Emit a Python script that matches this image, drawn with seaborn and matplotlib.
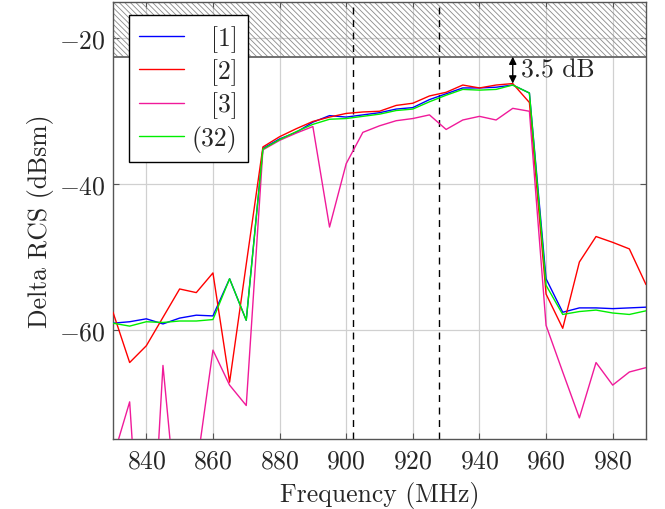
import numpy as np
import pandas as pd
import matplotlib
matplotlib.use("Agg")
import matplotlib.pyplot as plt
import matplotlib.transforms as mtransforms
import seaborn as sns

freq = list(range(830, 995, 5))

s1 = [-59.1, -58.9, -58.5, -59.2, -58.4, -58.0, -58.1, -53.0, -58.7, -35.1,
      -33.8, -32.9, -31.5, -30.6, -30.8, -30.5, -30.2, -29.7, -29.5, -28.4,
      -27.6, -26.8, -26.8, -26.7, -26.4, -27.5, -53.0, -57.6, -57.0, -57.0,
      -57.1, -57.0, -56.9]
s2 = [-57.6, -64.5, -62.2, -58.3, -54.4, -54.9, -52.2, -67.2, -51.0, -34.9,
      -33.5, -32.4, -31.4, -30.8, -30.3, -30.1, -30.0, -29.2, -28.9, -27.9,
      -27.4, -26.4, -26.8, -26.4, -26.2, -28.8, -55.1, -59.8, -50.7, -47.2,
      -48.0, -48.9, -53.8]
s3 = [-77.6, -69.9, -105.0, -64.9, -89.0, -79.3, -62.8, -67.6, -70.4, -35.3,
      -34.0, -33.0, -32.1, -45.9, -37.2, -32.9, -32.0, -31.3, -31.0, -30.5,
      -32.5, -31.2, -30.7, -31.2, -29.6, -30.0, -59.4, -65.8, -72.1, -64.5,
      -67.6, -65.8, -65.2]
s32 = [-59.1, -59.5, -58.9, -59.0, -58.8, -58.8, -58.6, -53.0, -58.7, -35.2,
       -33.9, -32.8, -31.8, -31.1, -31.0, -30.7, -30.4, -29.9, -29.7, -28.7,
       -27.8, -27.0, -27.1, -27.0, -26.4, -27.5, -53.9, -57.9, -57.5, -57.3,
       -57.7, -57.9, -57.4]

labels = ["[1]", "[2]", "[3]", "(32)"]
colors = ["#0000ff", "#ff0000", "#f01a9a", "#00ee00"]
band_edges = [902, 928]
limit_level = -22.5
peak_freq = 950
peak_level = -26.2
margin_text = "3.5 dB"

FS = 18.5

sns.set_style("white")
plt.rcParams["font.family"] = "serif"
plt.rcParams["font.serif"] = ["cmr10", "DejaVu Serif"]
plt.rcParams["mathtext.fontset"] = "cm"
plt.rcParams["axes.formatter.use_mathtext"] = True
plt.rcParams["hatch.color"] = "#8a8a8a"
plt.rcParams["hatch.linewidth"] = 0.6

df = pd.DataFrame({"freq": freq * 4,
                   "val": s1 + s2 + s3 + s32,
                   "series": sum([[l] * len(freq) for l in labels], [])})

fig = plt.figure(figsize=(6.65, 5.10), dpi=100)
ax = fig.add_axes([113 / 665, 1 - 440 / 510, (646 - 113) / 665, (440 - 3) / 510])

sns.lineplot(data=df, x="freq", y="val", hue="series", hue_order=labels,
             palette=colors, linewidth=1.0, ax=ax, zorder=3, legend=True)

ax.set_xlim(830, 990)
ax.set_ylim(-75, -15)
ax.set_xticks(range(840, 990, 20))
ax.set_yticks([-60, -40, -20])
ax.grid(True, color="#d0d0d0", linewidth=0.9, zorder=0)
ax.set_axisbelow(True)

# hatched forbidden region
ax.fill_between([830, 990], limit_level, -15, facecolor="none",
                edgecolor="#8a8a8a", hatch="\\" * 6, linewidth=0, zorder=1)
ax.axhline(limit_level, color="#666666", linewidth=1.3, zorder=2)

for f in band_edges:
    ax.axvline(f, color="black", linestyle=(0, (5, 4)), linewidth=1.0, zorder=2)

ax.annotate("", xy=(peak_freq, peak_level), xytext=(peak_freq, limit_level),
            arrowprops=dict(arrowstyle="<|-|>", color="black", lw=1.0,
                            shrinkA=0, shrinkB=0, mutation_scale=11), zorder=5)
ax.text(peak_freq + 2.5, (limit_level + peak_level) / 2 + 0.1, margin_text,
        fontsize=FS, va="center", ha="left", zorder=5)

ax.set_xlabel("Frequency (MHz)", fontsize=FS, labelpad=6)
ax.set_ylabel("Delta RCS (dBsm)", fontsize=FS, labelpad=4)
ax.tick_params(axis="both", labelsize=FS, direction="in", length=4,
               color="#555555", top=True, right=True, bottom=True, left=True)
ax.tick_params(axis="x", pad=7)
ax.tick_params(axis="y", pad=5)
for sp in ax.spines.values():
    sp.set_color("#555555")
    sp.set_linewidth(1.0)

leg = ax.legend(loc="upper left", bbox_to_anchor=(0.03, 0.97), fontsize=FS,
                frameon=True, fancybox=False, edgecolor="black",
                framealpha=1, handlelength=1.75, labelspacing=0.25,
                borderpad=0.4, handletextpad=0.3, borderaxespad=0.0,
                markerfirst=True)
leg.get_frame().set_linewidth(1.0)
leg.set_zorder(10)

# right-align the legend labels
fig.canvas.draw()
renderer = fig.canvas.get_renderer()
texts = leg.get_texts()
widths = [t.get_window_extent(renderer).width for t in texts]
maxw = max(widths)
for t, w in zip(texts, widths):
    t.set_transform(t.get_transform() +
                    mtransforms.Affine2D().translate(maxw - w, 0))

fig.savefig("out.png", dpi=100)
